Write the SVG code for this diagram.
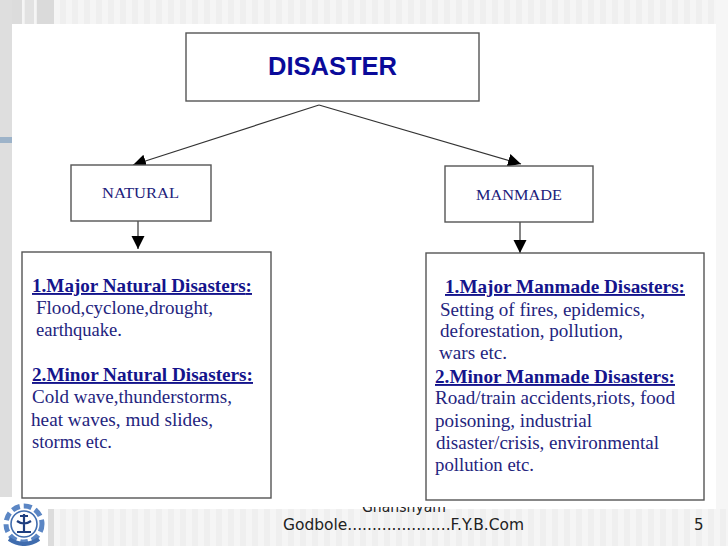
<svg xmlns="http://www.w3.org/2000/svg" width="728" height="546" viewBox="0 0 728 546">
<style>
.box{fill:#fff;stroke:#555;stroke-width:1.4}
.conn{fill:none;stroke:#333;stroke-width:1.2}
.s{font-family:"Liberation Serif","Times New Roman",serif;font-size:19px;fill:#24247e}
.h{font-family:"Liberation Serif","Times New Roman",serif;font-size:19px;font-weight:bold;fill:#14148c;text-decoration:underline}
.l{font-family:"Liberation Serif","Times New Roman",serif;font-size:15px;fill:#20207a}
.f{font-family:"DejaVu Sans",sans-serif;font-size:15px;fill:#222}
</style>
<defs>
<marker id="arrow" markerUnits="userSpaceOnUse" markerWidth="14" markerHeight="14" refX="13" refY="6.5" orient="auto"><path d="M0 0L13 6.5L0 13Z" fill="#000"/></marker>
<pattern id="stripes" width="12" height="10" patternUnits="userSpaceOnUse"><rect width="12" height="10" fill="#f5f5f5"/><rect width="6" height="10" fill="#efefef"/></pattern>
<clipPath id="gclip"><rect x="340" y="507" width="130" height="12"/></clipPath>
</defs>
<rect width="728" height="546" fill="#f6f6f6"/>
<rect x="0" y="0" width="12" height="509" fill="#dedede"/>
<rect x="0" y="137" width="12" height="6" fill="#9db3c9"/>
<rect x="12" y="0" width="704" height="24" fill="url(#stripes)"/>
<rect x="12" y="0" width="10" height="24" fill="#dcdcdc"/><rect x="25" y="0" width="9" height="24" fill="#e2e2e2"/><rect x="37" y="0" width="17" height="24" fill="#dadada"/>
<rect x="48" y="509" width="680" height="37" fill="url(#stripes)"/>
<rect x="48" y="509" width="6" height="37" fill="#dcdcdc"/>
<rect x="0" y="509" width="48" height="37" fill="#fff"/>
<rect id="panel" x="12" y="24" width="704" height="485" fill="#fff"/>
<rect x="0" y="497" width="50" height="12" fill="#fff"/>
<g id="footer-text">
<text class="f" x="362" y="512" textLength="84" lengthAdjust="spacingAndGlyphs" clip-path="url(#gclip)">Ghanshyam</text>
<text class="f" x="283" y="530" textLength="241" lengthAdjust="spacingAndGlyphs">Godbole.....................F.Y.B.Com</text>
<text class="f" x="694" y="530">5</text>
</g>
<g id="logo" fill="none" stroke="#5b86c4">
<circle cx="24" cy="524" r="18" stroke-width="5" stroke-dasharray="8 4"/>
<circle cx="24" cy="524" r="13" stroke="#3f6cae" stroke-width="1.6"/>
<path d="M24 514V531M17 532H31M17 521Q24 526 31 521M20 516H28" stroke="#1f3f80" stroke-width="2.2"/>
<path d="M9 539Q24 549 39 539" stroke="#3f6cae" stroke-width="4"/>
</g>
<g id="connectors">
<path class="conn" d="M319 105L133 165" marker-end="url(#arrow)"/>
<path class="conn" d="M319 105L521 164" marker-end="url(#arrow)"/>
<path class="conn" d="M138 221V249" marker-end="url(#arrow)"/>
<path class="conn" d="M520 222V253" marker-end="url(#arrow)"/>
</g>
<g id="disaster">
<rect class="box" x="186" y="33" width="293" height="68"/>
<text x="268" y="75" textLength="129" lengthAdjust="spacingAndGlyphs" font-family="Liberation Sans, Arial, sans-serif" font-size="26" font-weight="bold" fill="#0a0a9a">DISASTER</text>
</g>
<g id="natural">
<rect class="box" x="71" y="165" width="140" height="56"/>
<text class="l" x="102" y="198" textLength="77" lengthAdjust="spacingAndGlyphs">NATURAL</text>
</g>
<g id="manmade">
<rect class="box" x="445" y="166" width="148" height="56"/>
<text class="l" x="476" y="200" textLength="86" lengthAdjust="spacingAndGlyphs">MANMADE</text>
</g>
<g id="natural-detail">
<rect class="box" x="22" y="252" width="249" height="246"/>
<text class="h" x="32" y="292" textLength="220" lengthAdjust="spacingAndGlyphs">1.Major Natural Disasters<tspan style="text-decoration:none">:</tspan></text>
<text class="s" x="36" y="314" textLength="177" lengthAdjust="spacingAndGlyphs">Flood,cyclone,drought,</text>
<text class="s" x="36" y="336" textLength="86" lengthAdjust="spacingAndGlyphs">earthquake.</text>
<text class="h" x="32" y="381" textLength="221" lengthAdjust="spacingAndGlyphs">2.Minor Natural Disasters:</text>
<text class="s" x="32" y="403" textLength="200" lengthAdjust="spacingAndGlyphs">Cold wave,thunderstorms,</text>
<text class="s" x="31" y="426" textLength="182" lengthAdjust="spacingAndGlyphs">heat waves, mud slides,</text>
<text class="s" x="32" y="448" textLength="80" lengthAdjust="spacingAndGlyphs">storms etc.</text>
</g>
<g id="manmade-detail">
<rect class="box" x="426" y="253" width="278" height="247"/>
<text class="h" x="445" y="293" textLength="240" lengthAdjust="spacingAndGlyphs">1.Major Manmade Disasters:</text>
<text class="s" x="440" y="316" textLength="205" lengthAdjust="spacingAndGlyphs">Setting of fires, epidemics,</text>
<text class="s" x="440" y="337" textLength="183" lengthAdjust="spacingAndGlyphs">deforestation, pollution,</text>
<text class="s" x="439" y="359" textLength="68" lengthAdjust="spacingAndGlyphs">wars etc.</text>
<text class="h" x="435" y="383" textLength="240" lengthAdjust="spacingAndGlyphs">2.Minor Manmade Disasters:</text>
<text class="s" x="435" y="404" textLength="240" lengthAdjust="spacingAndGlyphs">Road/train accidents,riots, food</text>
<text class="s" x="435" y="427" textLength="157" lengthAdjust="spacingAndGlyphs">poisoning, industrial</text>
<text class="s" x="436" y="449" textLength="223" lengthAdjust="spacingAndGlyphs">disaster/crisis, environmental</text>
<text class="s" x="435" y="471" textLength="99" lengthAdjust="spacingAndGlyphs">pollution etc.</text>
</g>
</svg>
